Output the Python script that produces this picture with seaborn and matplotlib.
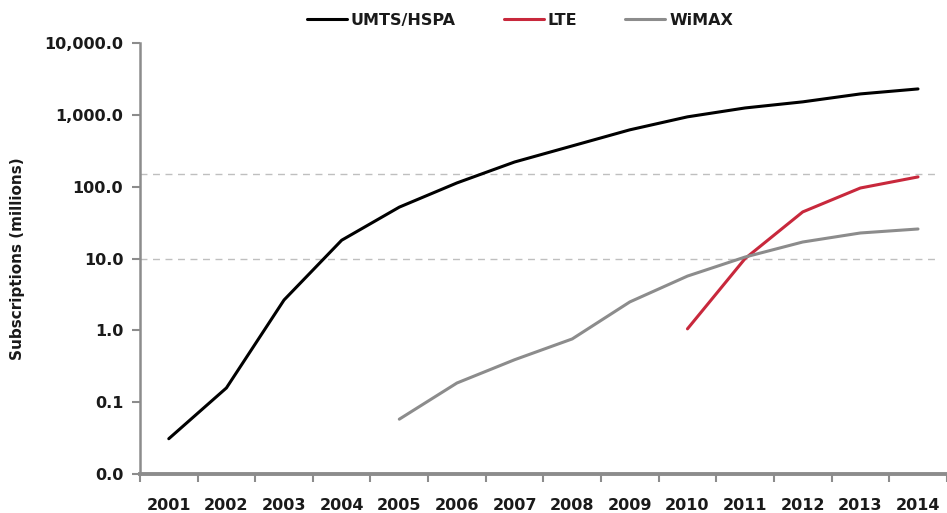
import numpy as np
import pandas as pd
import matplotlib
matplotlib.use("Agg")
import matplotlib.pyplot as plt
import seaborn as sns
from matplotlib.ticker import FixedLocator, FuncFormatter

years = [str(y) for y in range(2001, 2015)]
umts = [0.031, 0.158, 2.65, 18, 52, 113, 221, 370, 620, 940, 1250, 1520, 1960, 2300]
lte = [np.nan]*9 + [1.05, 10.0, 44.6, 96, 137]
wimax = [np.nan]*4 + [0.058, 0.185, 0.39, 0.76, 2.49, 5.7, 10.5, 17, 22.7, 25.8]
series_names = ["UMTS/HSPA", "LTE", "WiMAX"]
colors = ["#000000", "#C8283C", "#8C8C8C"]
ref_lines = [10, 150]
y_ticks = [0.01, 0.1, 1, 10, 100, 1000, 10000]

rows = []
for name, vals in zip(series_names, [umts, lte, wimax]):
    for i, v in enumerate(vals):
        rows.append({"idx": i, "year": years[i], "value": v, "tech": name})
df = pd.DataFrame(rows).dropna()

sns.set_theme(style="white")
plt.rcParams['font.family'] = ['DejaVu Sans']

fig = plt.figure(figsize=(9.47, 5.13), dpi=100)
ax = fig.add_axes([0.1478, 0.076, 0.852, 0.840])

for yv in ref_lines:
    ax.axhline(yv, xmin=0, xmax=0.985, color="#BFBFBF", lw=1.0, ls=(0, (5, 4)), zorder=0)

sns.lineplot(data=df, x="idx", y="value", hue="tech", hue_order=series_names,
             palette=dict(zip(series_names, colors)), linewidth=2.2, ax=ax,
             estimator=None, sort=True)

ax.set_yscale("log")
ax.set_ylim(0.01, 10000)
ax.set_xlim(-0.5, 13.5)
ax.yaxis.set_major_locator(FixedLocator(y_ticks))
ax.yaxis.set_minor_locator(FixedLocator([]))
ax.yaxis.set_major_formatter(FuncFormatter(lambda v, p: f"{v:,.1f}"))

ax.set_xticks(range(len(years)))
ax.set_xticklabels(years)
ax.set_xticks(np.arange(-0.5, 13.6, 1.0), minor=True)
ax.tick_params(axis="x", which="major", length=0, pad=17, labelsize=11.5, labelcolor="#1a1a1a")
ax.tick_params(axis="x", which="minor", length=6, width=1.5, color="#8C8C8C", direction="out", bottom=True)
ax.tick_params(axis="y", which="major", length=6, width=1.5, color="#8C8C8C", direction="out", left=True,
               labelsize=11.5, labelcolor="#1a1a1a", pad=6)
for lab in ax.get_xticklabels() + ax.get_yticklabels():
    lab.set_fontweight("bold")

for s in ["top", "right"]:
    ax.spines[s].set_visible(False)
ax.spines["left"].set_color("#8C8C8C")
ax.spines["left"].set_linewidth(1.8)
ax.spines["bottom"].set_color("#8C8C8C")
ax.spines["bottom"].set_linewidth(2.8)

ax.set_xlabel("")
ax.set_ylabel("Subscriptions (millions)", fontsize=11, fontweight="bold", color="#1a1a1a", labelpad=14)

handles, labels = ax.get_legend_handles_labels()
ax.legend_.remove()
leg = fig.legend(handles, labels, loc="center", bbox_to_anchor=(0.549, 0.961), ncol=3, frameon=False,
                 handlelength=2.5, handletextpad=0.25, columnspacing=3.0,
                 prop={"weight": "bold", "size": 11.5})
for t in leg.get_texts():
    t.set_color("#1a1a1a")

fig.savefig("out.png", dpi=100)
